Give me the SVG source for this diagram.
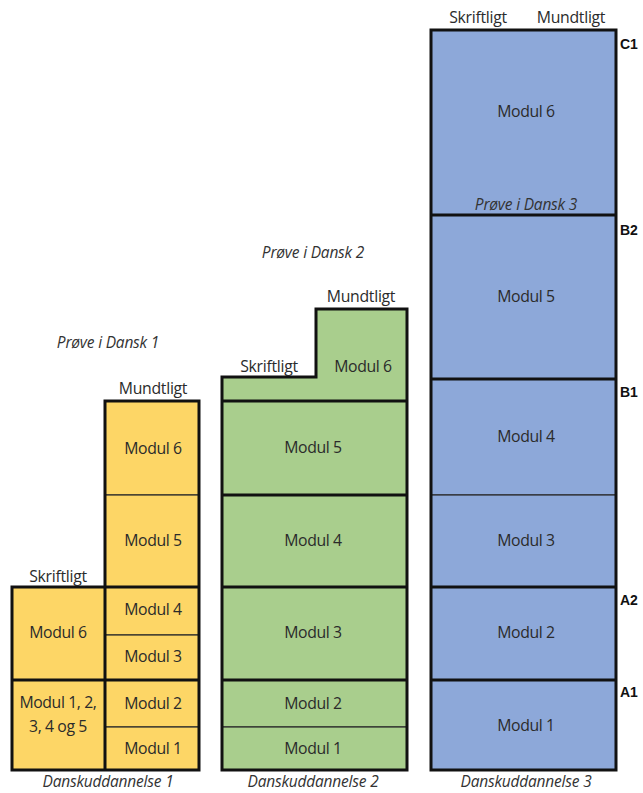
<svg xmlns="http://www.w3.org/2000/svg" width="643" height="793" viewBox="0 0 643 793">
<style>
.y{fill:#FDD666;stroke:#2a2a2a;stroke-width:1.2}
.g{fill:#A9CE8D;stroke:#2a2a2a;stroke-width:1.2}
.b{fill:#8DA8D9;stroke:#2a2a2a;stroke-width:1.2}
.thick{fill:none;stroke:#111;stroke-width:3}
.t{font-family:"Open Sans","Liberation Sans",sans-serif;font-size:15.8px;fill:#2b2b2b;text-anchor:middle;letter-spacing:-0.4px}
.h{font-family:"Open Sans","Liberation Sans",sans-serif;font-size:15.8px;fill:#2b2b2b;text-anchor:middle;letter-spacing:-0.3px}
.i{font-family:"Open Sans","Liberation Sans",sans-serif;font-size:15.5px;font-style:italic;fill:#333;text-anchor:middle;letter-spacing:-0.2px}
.lv{font-family:"Liberation Sans",Arial,sans-serif;font-size:14px;font-weight:bold;fill:#111}
</style>
<rect width="643" height="793" fill="#fff"/>
<!-- Column 1 -->
<g id="col1">
<g id="c1-m6"><rect class="y" x="105" y="401" width="94" height="94"/><text class="t" x="153" y="454">Modul 6</text></g>
<g id="c1-m5"><rect class="y" x="105" y="495" width="94" height="92"/><text class="t" x="153" y="546">Modul 5</text></g>
<g id="c1-m4"><rect class="y" x="105" y="587" width="94" height="48"/><text class="t" x="153" y="615">Modul 4</text></g>
<g id="c1-m3"><rect class="y" x="105" y="635" width="94" height="45"/><text class="t" x="153" y="662">Modul 3</text></g>
<g id="c1-m2"><rect class="y" x="105" y="680" width="94" height="47"/><text class="t" x="153" y="709">Modul 2</text></g>
<g id="c1-m1"><rect class="y" x="105" y="727" width="94" height="43"/><text class="t" x="153" y="754">Modul 1</text></g>
<g id="c1-s6"><rect class="y" x="12" y="587" width="93" height="93"/><text class="t" x="58" y="638">Modul 6</text></g>
<g id="c1-s15"><rect class="y" x="12" y="680" width="93" height="90"/><text class="t" x="58" y="708">Modul 1, 2,</text><text class="t" x="58" y="732">3, 4 og 5</text></g>
<path class="thick" d="M12,587 H105 V401 H199 V770 H12 Z M105,587 V770 M12,680 H199 M105,587 H199"/>
<text class="h" x="153" y="394">Mundtligt</text>
<text class="h" x="58" y="582">Skriftligt</text>
<text class="i" x="108" y="348">Prøve i Dansk 1</text>
<text class="i" x="108" y="787">Danskuddannelse 1</text>
</g>
<!-- Column 2 -->
<g id="col2">
<g id="c2-m6"><path class="g" d="M222,377 H316 V309 H407 V401 H222 Z"/><text class="t" x="363" y="372">Modul 6</text></g>
<g id="c2-m5"><rect class="g" x="222" y="401" width="185" height="94"/><text class="t" x="313" y="453">Modul 5</text></g>
<g id="c2-m4"><rect class="g" x="222" y="495" width="185" height="92"/><text class="t" x="313" y="546">Modul 4</text></g>
<g id="c2-m3"><rect class="g" x="222" y="587" width="185" height="93"/><text class="t" x="313" y="638">Modul 3</text></g>
<g id="c2-m2"><rect class="g" x="222" y="680" width="185" height="47"/><text class="t" x="313" y="709">Modul 2</text></g>
<g id="c2-m1"><rect class="g" x="222" y="727" width="185" height="43"/><text class="t" x="313" y="754">Modul 1</text></g>
<path class="thick" d="M222,377 H316 V309 H407 V770 H222 Z M222,401 H407 M222,495 H407 M222,587 H407 M222,680 H407"/>
<text class="h" x="361" y="302">Mundtligt</text>
<text class="h" x="269" y="372">Skriftligt</text>
<text class="i" x="313" y="258">Prøve i Dansk 2</text>
<text class="i" x="313" y="787">Danskuddannelse 2</text>
</g>
<!-- Column 3 -->
<g id="col3">
<g id="c3-m6"><rect class="b" x="431" y="30" width="185" height="185"/><text class="t" x="526" y="117">Modul 6</text></g>
<g id="c3-m5"><rect class="b" x="431" y="215" width="185" height="164"/><text class="t" x="526" y="302">Modul 5</text></g>
<g id="c3-m4"><rect class="b" x="431" y="379" width="185" height="116"/><text class="t" x="526" y="442">Modul 4</text></g>
<g id="c3-m3"><rect class="b" x="431" y="495" width="185" height="92"/><text class="t" x="526" y="546">Modul 3</text></g>
<g id="c3-m2"><rect class="b" x="431" y="587" width="185" height="93"/><text class="t" x="526" y="638">Modul 2</text></g>
<g id="c3-m1"><rect class="b" x="431" y="680" width="185" height="90"/><text class="t" x="526" y="731">Modul 1</text></g>
<path class="thick" d="M431,30 H616 V770 H431 Z M431,215 H616 M431,379 H616 M431,587 H616 M431,680 H616"/>
<text class="h" x="478" y="23">Skriftligt</text>
<text class="h" x="571" y="23">Mundtligt</text>
<text class="i" x="526" y="210">Prøve i Dansk 3</text>
<text class="i" x="526" y="787">Danskuddannelse 3</text>
<text class="lv" x="620" y="49">C1</text>
<text class="lv" x="620" y="235">B2</text>
<text class="lv" x="620" y="397">B1</text>
<text class="lv" x="620" y="605">A2</text>
<text class="lv" x="620" y="697">A1</text>
</g>
</svg>
